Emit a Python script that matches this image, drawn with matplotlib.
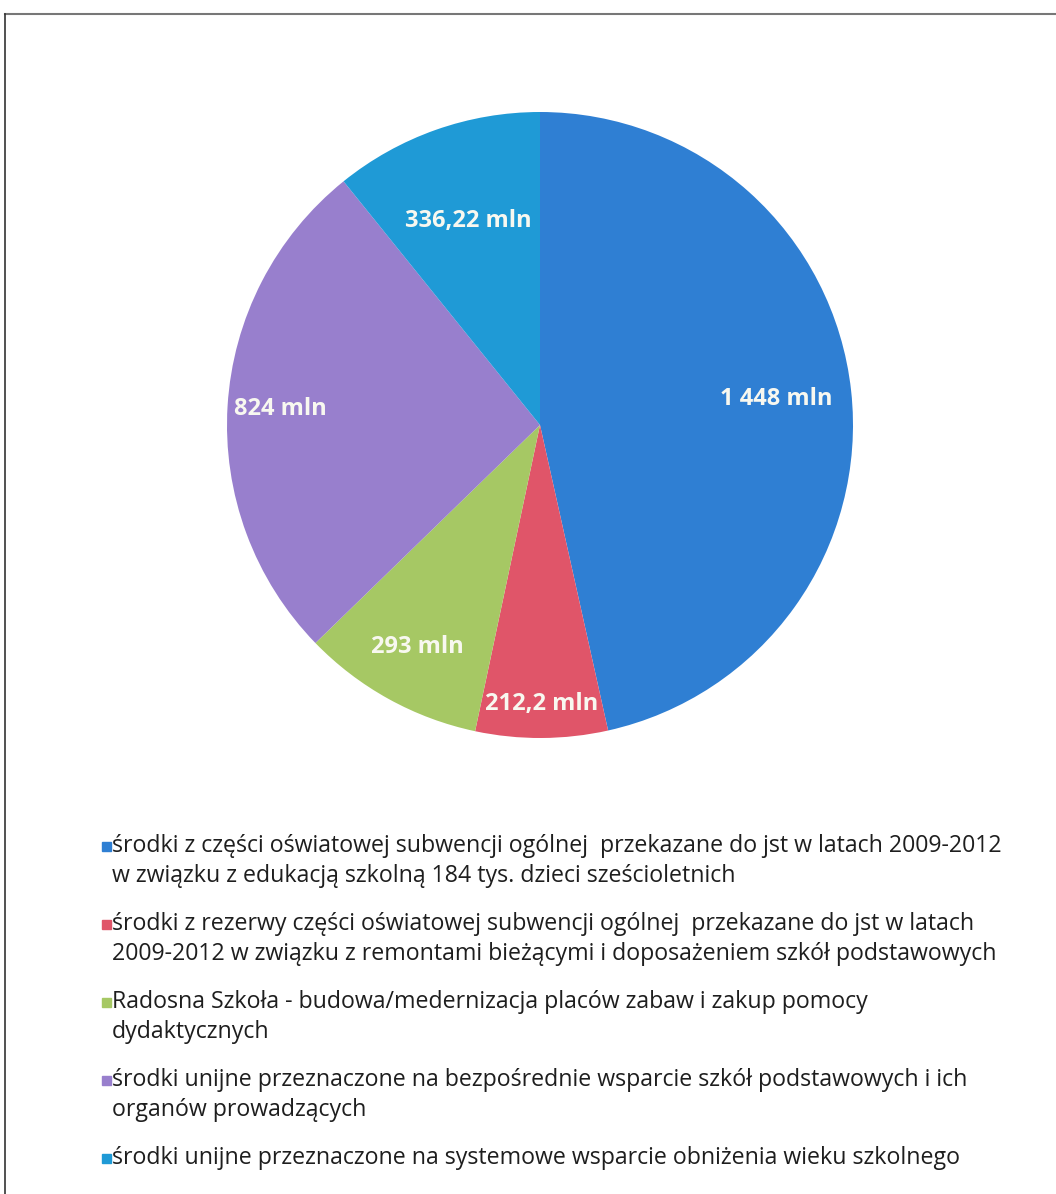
import matplotlib
matplotlib.use("Agg")
import matplotlib.pyplot as plt
from matplotlib.lines import Line2D
from matplotlib.patches import Rectangle

# ---- data ----
values = [1448, 212.2, 293, 824, 336.22]
value_labels = ["1 448 mln", "212,2 mln", "293 mln", "824 mln", "336,22 mln"]
legend_labels = [
    "środki z części oświatowej subwencji ogólnej  przekazane do jst w latach 2009-2012\nw związku z edukacją szkolną 184 tys. dzieci sześcioletnich",
    "środki z rezerwy części oświatowej subwencji ogólnej  przekazane do jst w latach\n2009-2012 w związku z remontami bieżącymi i doposażeniem szkół podstawowych",
    "Radosna Szkoła - budowa/medernizacja placów zabaw i zakup pomocy\ndydaktycznych",
    "środki unijne przeznaczone na bezpośrednie wsparcie szkół podstawowych i ich\norganów prowadzących",
    "środki unijne przeznaczone na systemowe wsparcie obniżenia wieku szkolnego",
]
colors = ["#2f7fd3", "#e05569", "#a6c864", "#987fcd", "#1f9ad6"]
label_r = [0.76, 0.89, 0.81, 0.83, 0.69]

FONT = ["Open Sans", "DejaVu Sans"]
plt.rcParams["font.family"] = FONT

W, H = 1056, 1194
fig = plt.figure(figsize=(W / 100, H / 100), dpi=100)
fig.patch.set_facecolor("white")

cx, cy, R = 540, 425, 313
ax = fig.add_axes([(cx - R) / W, 1 - (cy + R) / H, 2 * R / W, 2 * R / H])
wedges, texts = ax.pie(values, colors=colors, startangle=90, counterclock=False,
                       labels=value_labels, labeldistance=0.78, radius=1,
                       wedgeprops=dict(linewidth=0))
for t, r in zip(texts, label_r):
    x, y = t.get_position()
    t.set_position((x * r / 0.78, y * r / 0.78))
    t.set_ha("center"); t.set_va("center")
    t.set_color("#f8f8f0"); t.set_fontsize(17); t.set_fontweight("bold")
ax.set_xlim(-1, 1); ax.set_ylim(-1, 1)
ax.set_aspect("equal")
ax.axis("off")

# frame lines
fig.add_artist(Line2D([5 / W, 1], [1 - 14 / H, 1 - 14 / H], color="#777777", lw=1.5, transform=fig.transFigure))
fig.add_artist(Line2D([5 / W, 5 / W], [0, 1 - 14 / H], color="#333333", lw=1.2, transform=fig.transFigure))

# legend (marker aligned with first line)
y0, step, lsp = 846, 78, 30
for i, (lab, c) in enumerate(zip(legend_labels, colors)):
    yc = y0 + i * step
    fig.add_artist(Rectangle((102 / W, 1 - (yc + 4.5) / H), 9 / W, 9 / H, color=c,
                             transform=fig.transFigure))
    lines = lab.split("\n")
    for j, ln in enumerate(lines):
        fig.text(112 / W, 1 - (yc + j * lsp) / H, ln, ha="left", va="center",
                 fontsize=16.7, color="#1e1e1e")

fig.savefig("out.png", dpi=100, facecolor="white")
